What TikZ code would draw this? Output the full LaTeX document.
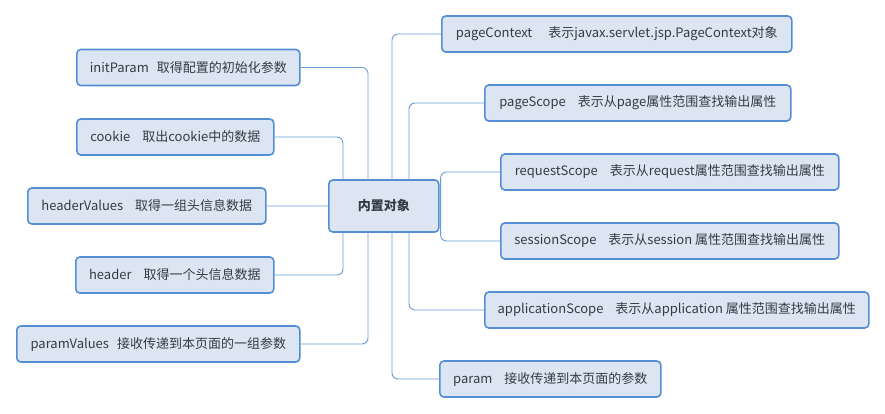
\documentclass[tikz,border=0pt]{standalone}
\usepackage{fontspec}
\setmainfont{Noto Sans CJK SC}
\usetikzlibrary{positioning}
\usetikzlibrary{calc}
\definecolor{boxfill}{HTML}{DCE6F2}
\definecolor{boxline}{HTML}{558ED5}
\definecolor{wire}{HTML}{6A9BD8}
\definecolor{ink}{HTML}{353B45}

\begin{document}
\begin{tikzpicture}[x=1pt, y=-1pt, leaf/.style={rectangle, rounded corners=4pt, draw=boxline, line width=1.6pt, fill=boxfill, text=ink, minimum height=36pt, anchor=west, inner sep=0pt}, topic/.style={leaf, minimum height=52pt, font=\fontsize{13}{15}\selectfont\bfseries}, link/.style={draw=wire, line width=0.9pt, rounded corners=6pt}, every node/.style={font=\fontsize{13}{15}\selectfont}]

  \useasboundingbox (0,0) rectangle (885,414);

  \node[topic, minimum width=110pt] (c) at (328,206) {内置对象};

  % left side
  \node[leaf, minimum width=223pt] (init) at (76,67.5) {initParam\hspace{8pt}取得配置的初始化参数};
  \node[leaf, minimum width=197pt] (cookie) at (76,137) {cookie\hspace{12pt}取出cookie中的数据};
  \node[leaf, minimum width=238pt] (hvals) at (27,206) {headerValues\hspace{12pt}取得一组头信息数据};
  \node[leaf, minimum width=198pt] (header) at (75,275) {header\hspace{12pt}取得一个头信息数据};
  \node[leaf, minimum width=283pt] (pvals) at (16,344) {paramValues\hspace{8pt}接收传递到本页面的一组参数};

  % right side
  \node[leaf, minimum width=350pt] (pctx) at (441,34) {pageContext\hspace{16pt}表示javax.servlet.jsp.PageContext对象};
  \node[leaf, minimum width=306pt] (pscope) at (484,103) {pageScope\hspace{12pt}表示从page属性范围查找输出属性};
  \node[leaf, minimum width=338pt] (rscope) at (500,172) {requestScope\hspace{12pt}表示从request属性范围查找输出属性};
  \node[leaf, minimum width=338pt] (sscope) at (500,241) {sessionScope\hspace{12pt}表示从session 属性范围查找输出属性};
  \node[leaf, minimum width=384pt] (ascope) at (484,310) {applicationScope\hspace{12pt}表示从application 属性范围查找输出属性};
  \node[leaf, minimum width=221pt] (param) at (439,379) {param\hspace{12pt}接收传递到本页面的参数};

  \path[link]
    (init.east) -| ([xshift=40pt]c.north west)
    (cookie.east) -| ([xshift=15pt]c.north west)
    (hvals.east) -- (c.west)
    (header.east) -| ([xshift=15pt]c.south west)
    (pvals.east) -| ([xshift=40pt]c.south west)
    ([xshift=64pt]c.north west) |- (pctx.west)
    ([xshift=81pt]c.north west) |- (pscope.west)
    ([xshift=1pt]c.east) |- (rscope.west)
    ([xshift=1pt]c.east) |- (sscope.west)
    ([xshift=81pt]c.south west) |- (ascope.west)
    ([xshift=64pt]c.south west) |- (param.west)
  ;
\end{tikzpicture}
\end{document}
